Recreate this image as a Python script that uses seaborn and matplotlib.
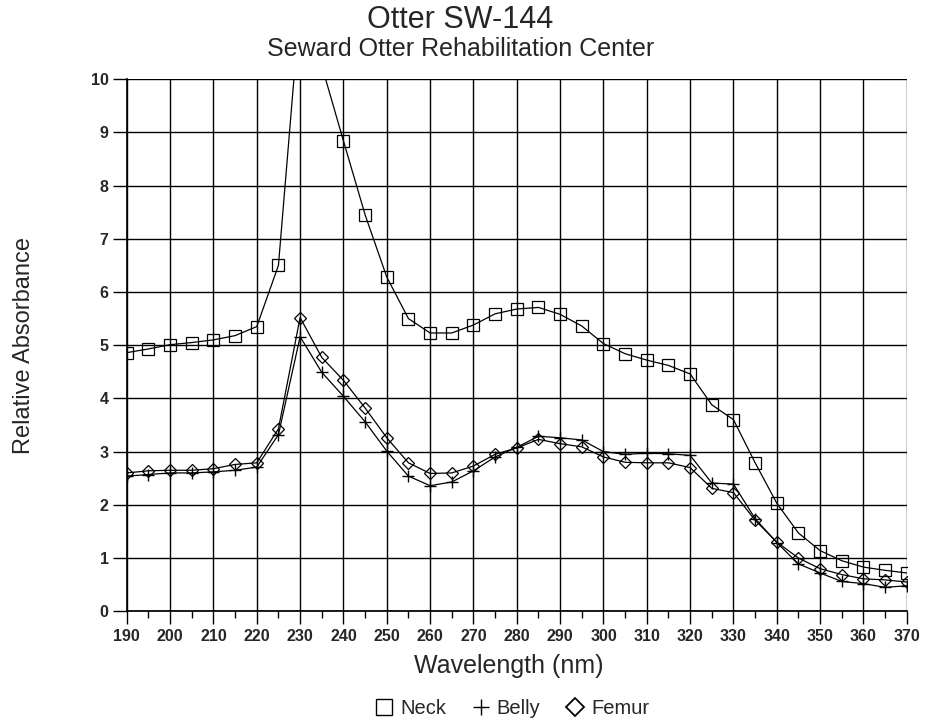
import matplotlib
matplotlib.use("Agg")
import matplotlib.pyplot as plt
from matplotlib.lines import Line2D
from matplotlib.ticker import MultipleLocator
import seaborn as sns
import pandas as pd

sns.set_theme(style="white")
plt.rcParams['font.family'] = ['Liberation Sans', 'DejaVu Sans']

wavelength = list(range(190, 371, 5))

neck = [4.86, 4.93, 5.01, 5.05, 5.10, 5.18, 5.35, 6.50, 11.4, 10.25,
        8.84, 7.45, 6.28, 5.50, 5.23, 5.23, 5.38, 5.59, 5.68, 5.71,
        5.58, 5.36, 5.03, 4.84, 4.72, 4.62, 4.46, 3.88, 3.60, 2.79,
        2.03, 1.47, 1.14, 0.95, 0.83, 0.77, 0.72]
belly = [2.54, 2.57, 2.60, 2.60, 2.62, 2.65, 2.71, 3.32, 5.16, 4.49,
         4.04, 3.56, 3.01, 2.54, 2.36, 2.43, 2.64, 2.90, 3.08, 3.29,
         3.26, 3.22, 3.00, 2.95, 2.97, 2.96, 2.93, 2.41, 2.39, 1.74,
         1.29, 0.89, 0.72, 0.56, 0.52, 0.45, 0.48]
femur = [2.60, 2.64, 2.65, 2.65, 2.68, 2.76, 2.79, 3.43, 5.52, 4.77,
         4.34, 3.82, 3.26, 2.79, 2.59, 2.60, 2.73, 2.95, 3.07, 3.23,
         3.15, 3.09, 2.90, 2.80, 2.79, 2.79, 2.70, 2.31, 2.23, 1.71,
         1.30, 1.00, 0.80, 0.69, 0.61, 0.59, 0.55]

series = ["Neck", "Belly", "Femur"]
df = pd.DataFrame({
    "Wavelength": wavelength * 3,
    "Absorbance": neck + belly + femur,
    "Sample": [s for s in series for _ in wavelength],
})

fig = plt.figure(figsize=(9.32, 7.26), dpi=100)
ax = fig.add_axes([0.136, 0.158, 0.837, 0.733])

for name, mk, ms, mew in [("Neck", "s", 8.5, 0.9), ("Belly", "+", 8, 1.0), ("Femur", "D", 6, 0.9)]:
    sns.lineplot(data=df[df["Sample"] == name], x="Wavelength", y="Absorbance",
                 color="black", linewidth=0.9, marker=mk, markersize=ms,
                 markerfacecolor="none", markeredgecolor="black", markeredgewidth=mew,
                 ax=ax, legend=False)

ax.set_xlim(190, 370)
ax.set_ylim(0, 10)
ax.xaxis.set_major_locator(MultipleLocator(10))
ax.xaxis.set_minor_locator(MultipleLocator(5))
ax.yaxis.set_major_locator(MultipleLocator(1))
ax.grid(True, which="major", color="black", linewidth=1.0)
for s in ax.spines.values():
    s.set_visible(False)
ax.spines["left"].set_visible(True)
ax.spines["bottom"].set_visible(True)
ax.spines["left"].set_color("black")
ax.spines["bottom"].set_color("black")
ax.tick_params(axis="x", which="major", bottom=True, length=9, width=1, color="black",
               labelsize=11.5, pad=4)
ax.tick_params(axis="x", which="minor", bottom=True, length=5, width=1, color="black")
ax.tick_params(axis="y", which="major", left=True, length=10, width=1, color="black",
               labelsize=11.5, pad=3)
for lbl in ax.get_xticklabels() + ax.get_yticklabels():
    lbl.set_fontweight("bold")

ax.set_xlabel("Wavelength (nm)", fontsize=18)
ax.set_ylabel("Relative Absorbance", fontsize=17, labelpad=40)
ax.xaxis.set_label_coords(0.49, -0.08)

fig.text(0.494, 0.973, "Otter SW-144", ha="center", va="center", fontsize=22)
fig.text(0.494, 0.932, "Seward Otter Rehabilitation Center", ha="center", va="center",
         fontsize=18)

handles = [
    Line2D([], [], linestyle="none", marker="s", markersize=11, markerfacecolor="none",
           markeredgecolor="black", markeredgewidth=1.0),
    Line2D([], [], linestyle="none", marker="+", markersize=12, markeredgecolor="black",
           markeredgewidth=1.0),
    Line2D([], [], linestyle="none", marker="D", markersize=9.5, markerfacecolor="none",
           markeredgecolor="black", markeredgewidth=1.3),
]
fig.legend(handles, series, loc="center", bbox_to_anchor=(0.549, 0.024), ncol=3,
           frameon=False, fontsize=14.5, handletextpad=0.3, columnspacing=1.2,
           handlelength=1.0)

fig.savefig("out.png", dpi=100, facecolor="white")
